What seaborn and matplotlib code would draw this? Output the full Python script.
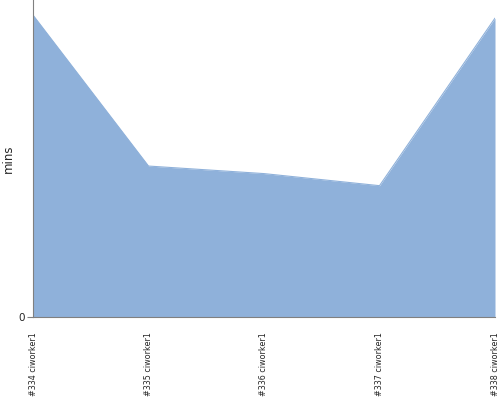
import numpy as np
import pandas as pd
import seaborn as sns
import matplotlib
matplotlib.use("Agg")
import matplotlib.pyplot as plt

# chart data
builds = ["#334 ciworker1", "#335 ciworker1", "#336 ciworker1",
          "#337 ciworker1", "#338 ciworker1"]
minutes = [20.0, 10.0, 9.5, 8.7, 19.8]

sns.set_theme(style="white")
plt.rcParams['font.family'] = ['DejaVu Sans']

df = pd.DataFrame({"build": builds, "mins": minutes})
df["pos"] = np.arange(len(df))

fig, ax = plt.subplots(figsize=(5, 4), dpi=100)
fig.subplots_adjust(left=0.066, right=0.99, top=1.0, bottom=0.2075)

fill = "#8fb1da"
sns.lineplot(data=df, x="pos", y="mins", ax=ax, color=fill, linewidth=0.8)
ax.fill_between(df["pos"], 0, df["mins"], color=fill, linewidth=0)

ax.set_xlim(0, len(df) - 1)
ax.set_ylim(0, 21)
ax.set_xticks(df["pos"])
ax.set_xticklabels(df["build"], rotation=90, fontsize=5.8)
ax.set_yticks([0])
ax.set_yticklabels(["0"], fontsize=7.5)
ax.set_xlabel("")
ax.set_ylabel("mins", fontsize=8.5)
ax.yaxis.set_label_coords(-0.04, 0.5)

for side in ["top", "right"]:
    ax.spines[side].set_visible(False)
for side in ["left", "bottom"]:
    ax.spines[side].set_color("#808080")
    ax.spines[side].set_linewidth(0.8)
ax.tick_params(axis="y", left=True, length=4, width=0.8, color="#808080", pad=2)
ax.tick_params(axis="x", bottom=False, pad=5)

fig.savefig("out.png", dpi=100)
